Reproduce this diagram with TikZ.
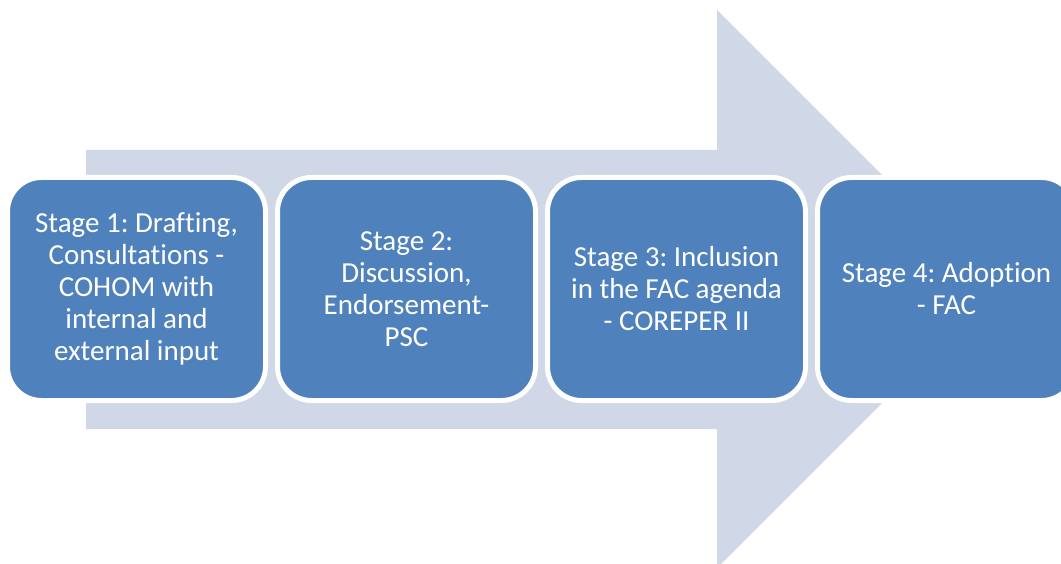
\documentclass[tikz,border=0pt]{standalone}
\usepackage{fontspec}
\setmainfont{Carlito}[Ligatures=NoCommon]
\usepackage{tikz}
\frenchspacing
\definecolor{stageblue}{HTML}{4F81BD}
\definecolor{arrowgrey}{HTML}{D0D8E8}
\tikzstyle{stage}=[draw=white,line width=5pt,fill=stageblue,rounded corners=34pt,
  minimum width=258pt,minimum height=223pt,inner sep=0pt,align=center,text=white]
\tikzstyle{label}=[font=\fontsize{29}{32}\selectfont]

\begin{document}
\begin{tikzpicture}[x=1pt,y=-1pt]
				\useasboundingbox (0,0) rectangle (1061,564);
				% First we draw the big arrow in the background
				\fill[arrowgrey] (86,150) -- (717,150) -- (717,10) -- (996,289)
				  -- (717,568) -- (717,429) -- (86,429) -- cycle;

				% Then the four stages on top of it
				\foreach \pos/\name/\text in {{(136.5,289)/s1/Stage 1: Drafting,\\Consultations -\\COHOM with\\internal and\\external input},
				  {(406.5,289)/s2/Stage 2:\\Discussion,\\Endorsement-\\PSC},
				  {(676.5,289)/s3/Stage 3: Inclusion\\in the FAC agenda\\- COREPER II},
				  {(946.5,289)/s4/Stage 4: Adoption\\- FAC}}
				\node[stage,label] (\name) at \pos {\text};
			\end{tikzpicture}
\end{document}
